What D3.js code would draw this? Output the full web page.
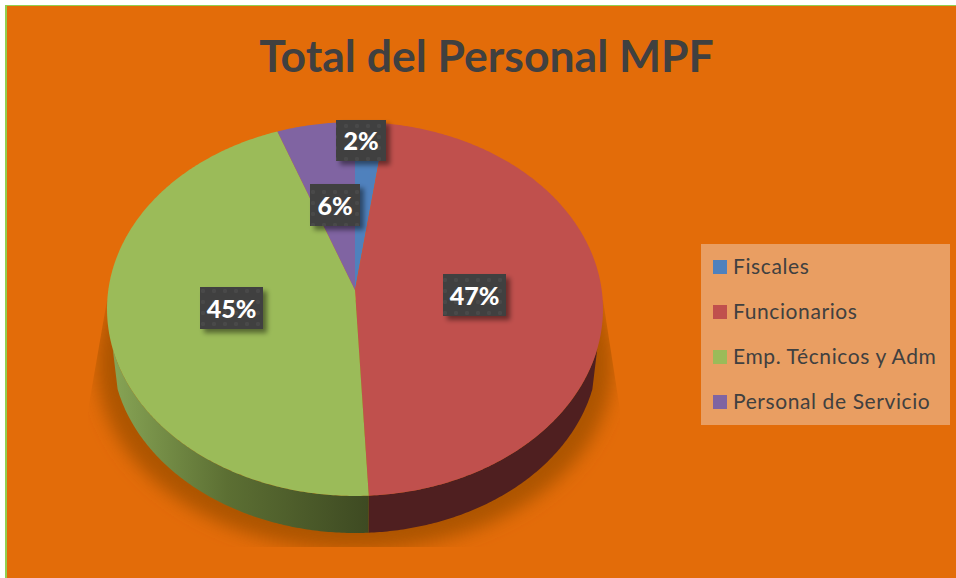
<!DOCTYPE html>
<html>
<head>
<meta charset="utf-8">
<script src="https://cdn.jsdelivr.net/npm/d3@7"></script>
<style>
  html, body { margin: 0; padding: 0; background: #fff; }
  text { font-family: Lato, "Open Sans", sans-serif; }
</style>
</head>
<body>
<div id="chartContainer"></div>
<script>
var categories = ["Fiscales", "Funcionarios", "Emp. Técnicos y Adm", "Personal de Servicio"];
var shares = [2.2, 47.0, 45.2, 5.6];
var colors = ["#4f81bd", "#c0504d", "#9bbb59", "#8064a2"];
var title = "Total del Personal MPF";

var width = 956, height = 578;
var svg = d3.select("#chartContainer").append("svg")
    .attr("width", width).attr("height", height)
    .style("display", "block");
var defs = svg.append("defs");

// page background, thin green edge top and left
svg.append("rect").attr("x", 5).attr("y", 5).attr("width", width - 5).attr("height", height - 5).attr("fill", "#92d050");
svg.append("rect").attr("x", 7).attr("y", 6).attr("width", width - 7).attr("height", height - 6).attr("fill", "#e36c09");

svg.append("text")
    .attr("x", 486.5).attr("y", 72)
    .attr("text-anchor", "middle")
    .style("font-size", "44.5px").style("font-weight", "bold")
    .attr("fill", "#404040")
    .text(title);

// the top of the pie is a tilted disc seen with some perspective
var apex = [355, 290], spreadX = 246.7, spreadY = 185, persp = 0.1016;
function topPoint(a, r) {
    var w = 1 + persp * r * Math.cos(a);
    return [apex[0] + spreadX * r * Math.sin(a) / w, apex[1] - spreadY * r * Math.cos(a) / w];
}
// lower rim of the wall
var lower = { cx: 355, cy: 350, rx: 243, ry: 183 };
function lowerPoint(a) {
    var p = topPoint(a, 1);
    var t = Math.atan2((p[0] - 355) / 248, (309 - p[1]) / 187);
    return [lower.cx + lower.rx * Math.sin(t), lower.cy - lower.ry * Math.cos(t)];
}

var pie = d3.pie().sort(null)(shares);
var line = d3.line();
function sweep(a0, a1) {
    var n = Math.max(2, Math.ceil(Math.abs(a1 - a0) / 0.01));
    return d3.range(n + 1).map(function (i) { return a0 + (a1 - a0) * i / n; });
}

// shadow on the background
defs.append("filter").attr("id", "blur").attr("x", "-20%").attr("y", "-20%").attr("width", "140%").attr("height", "140%")
    .append("feGaussianBlur").attr("stdDeviation", 9);
defs.append("clipPath").attr("id", "shadowClip").append("path")
    .attr("d", "M107,300L88,410L88,547L622,547L620,410L603,300Z");
svg.append("g").attr("clip-path", "url(#shadowClip)")
    .append("ellipse")
    .attr("cx", 355).attr("cy", 364).attr("rx", 258).attr("ry", 186)
    .attr("fill", "#ad5506").attr("filter", "url(#blur)");

// wall: green part fades to dark towards the seam, red part is flat
var wallGrad = defs.append("linearGradient").attr("id", "wallGreen")
    .attr("gradientUnits", "userSpaceOnUse")
    .attr("x1", 112).attr("x2", 368).attr("y1", 0).attr("y2", 0);
wallGrad.append("stop").attr("offset", 0).attr("stop-color", "#87a455");
wallGrad.append("stop").attr("offset", 0.45).attr("stop-color", "#5c6f33");
wallGrad.append("stop").attr("offset", 1).attr("stop-color", "#3e4a22");

function wallPath(a0, a1) {
    var s = sweep(a0, a1);
    return line(s.map(function (a) { return topPoint(a, 1); })
        .concat(s.slice().reverse().map(lowerPoint))) + "Z";
}
var seam = pie[1].endAngle;
svg.append("path").attr("d", wallPath(Math.PI * 0.6, seam)).attr("fill", "#4f1f20");
svg.append("path").attr("d", wallPath(seam, Math.PI * 1.4)).attr("fill", "url(#wallGreen)");

// top faces
svg.append("g").selectAll("path").data(pie).join("path")
    .attr("fill", function (d, i) { return colors[i]; })
    .attr("d", function (d) {
        var pts = sweep(d.startAngle, d.endAngle).map(function (a) { return topPoint(a, 1); });
        return line([apex].concat(pts)) + "Z";
    });

// legend
var legendBox = { x: 701, y: 244, w: 249, h: 181, first: 267, step: 45 };
svg.append("rect")
    .attr("x", legendBox.x).attr("y", legendBox.y).attr("width", legendBox.w).attr("height", legendBox.h)
    .attr("fill", "#e99e62");
var legendY = d3.scalePoint().domain(categories)
    .range([legendBox.first, legendBox.first + legendBox.step * (categories.length - 1)]);
var legend = svg.append("g").selectAll("g").data(categories).join("g")
    .attr("transform", function (d) { return "translate(713," + legendY(d) + ")"; });
legend.append("rect").attr("y", -7).attr("width", 14).attr("height", 14)
    .attr("fill", function (d, i) { return colors[i]; });
legend.append("text").attr("x", 20).attr("y", 7)
    .style("font-size", "21px").style("letter-spacing", "0.6px").attr("fill", "#404040")
    .text(function (d) { return d; });

// data labels: dark tiles with a faint dot texture
var labelBoxes = [
    { x: 336, y: 120, w: 50, h: 41 },
    { x: 443, y: 274, w: 63, h: 42 },
    { x: 200, y: 287, w: 63, h: 42 },
    { x: 310, y: 184, w: 50, h: 42 }
];
var dots = defs.append("pattern").attr("id", "dots").attr("patternUnits", "userSpaceOnUse")
    .attr("width", 11).attr("height", 11);
dots.append("rect").attr("width", 11).attr("height", 11).attr("fill", "#404040");
dots.append("circle").attr("cx", 5).attr("cy", 5).attr("r", 2).attr("fill", "#4a4a4a");
var tileShadow = defs.append("filter").attr("id", "tileShadow").attr("x", "-30%").attr("y", "-30%").attr("width", "170%").attr("height", "170%");
tileShadow.append("feDropShadow").attr("dx", 4).attr("dy", 4).attr("stdDeviation", 2.5)
    .attr("flood-color", "#000").attr("flood-opacity", 0.45);

var tiles = svg.append("g").selectAll("g").data(pie).join("g");
tiles.append("rect")
    .attr("x", function (d, i) { return labelBoxes[i].x; })
    .attr("y", function (d, i) { return labelBoxes[i].y; })
    .attr("width", function (d, i) { return labelBoxes[i].w; })
    .attr("height", function (d, i) { return labelBoxes[i].h; })
    .attr("fill", "url(#dots)")
    .attr("filter", "url(#tileShadow)");
tiles.append("text")
    .attr("x", function (d, i) { return labelBoxes[i].x + labelBoxes[i].w / 2; })
    .attr("y", function (d, i) { return labelBoxes[i].y + labelBoxes[i].h / 2 + 9.5; })
    .attr("text-anchor", "middle")
    .style("font-size", "25px").style("font-weight", "900")
    .attr("fill", "#fff")
    .text(function (d) { return Math.round(d.value) + "%"; });
</script>
</body>
</html>
